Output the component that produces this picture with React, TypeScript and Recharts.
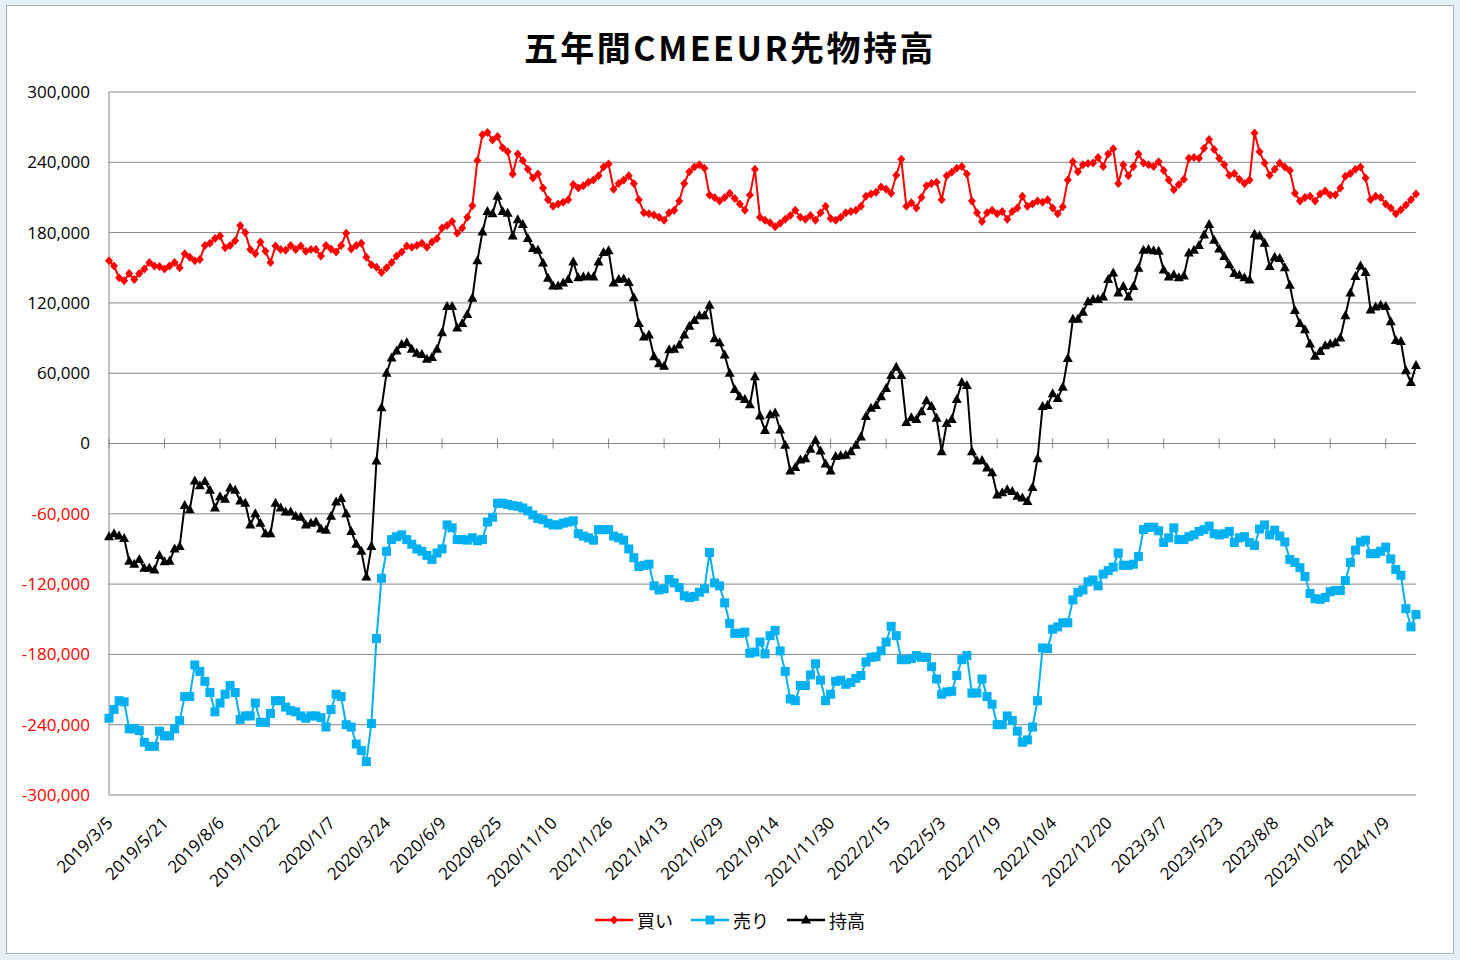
import React from "react";
import { LineChart, Line, XAxis, YAxis, CartesianGrid, ReferenceLine, Legend } from "recharts";

// weekly CME EUR futures positions, first report 2019/3/5
const weekCount = 260;
const dates: string[] = [];
for (let i = 0; i < weekCount; i++) {
  const d = new Date(Date.UTC(2019, 2, 5 + i * 7));
  dates.push(`${d.getUTCFullYear()}/${d.getUTCMonth() + 1}/${d.getUTCDate()}`);
}

const tickLabels = [
  "2019/3/5", "2019/5/21", "2019/8/6", "2019/10/22", "2020/1/7", "2020/3/24",
  "2020/6/9", "2020/8/25", "2020/11/10", "2021/1/26", "2021/4/13", "2021/6/29",
  "2021/9/14", "2021/11/30", "2022/2/15", "2022/5/3", "2022/7/19", "2022/10/4",
  "2022/12/20", "2023/3/7", "2023/5/23", "2023/8/8", "2023/10/24", "2024/1/9",
];

const yTicks = [300000, 240000, 180000, 120000, 60000, 0, -60000, -120000, -180000, -240000, -300000];

// 買い (long)
const buy = [
  156000, 151500, 141500, 139000, 145000, 140000, 145000, 149000, 154500, 151500,
  151000, 149000, 151500, 154500, 150000, 162000, 159000, 156000, 157000, 169000,
  171000, 175000, 177000, 167000, 169000, 173000, 186000, 180000, 165500, 162000,
  172000, 164000, 154500, 168500, 165500, 165000, 169000, 165500, 168500, 164000,
  165500, 165500, 160000, 169000, 166000, 163500, 169000, 179500, 166000, 169000,
  171000, 159000, 152500, 150500, 146000, 150000, 154500, 160000, 163500, 168500,
  167500, 169000, 171000, 167500, 172000, 175000, 184000, 186000, 189500, 179500,
  184000, 193000, 203000, 241500, 263500, 265500, 259000, 262000, 252500, 249000,
  230000, 247000, 241500, 234000, 226500, 230000, 218000, 208000, 202500, 204500,
  206000, 208000, 221000, 218000, 220000, 223000, 225000, 228500, 236000, 238500,
  217000, 222000, 225000, 228500, 222000, 208000, 197000, 196000, 195000, 193000,
  190500, 197000, 199000, 207000, 222000, 232000, 236000, 238000, 235000, 212000,
  210000, 207000, 210000, 213500, 209000, 204500, 199000, 212000, 234000, 193000,
  190500, 188500, 185000, 188000, 191500, 194500, 199000, 193000, 191500, 194500,
  190500, 197000, 202500, 192000, 190500, 193000, 197000, 198000, 199000, 202500,
  211000, 213000, 214500, 219000, 217000, 213500, 229000, 242500, 202500, 205500,
  201000, 210000, 220000, 222000, 223000, 208000, 228500, 231500, 235000, 236500,
  230000, 207000, 197000, 189500, 197000, 199000, 196000, 198000, 191500, 198000,
  201000, 211000, 202500, 204500, 207000, 206000, 208000, 201000, 196000, 202000,
  225000, 240500, 232000, 238000, 239000, 239500, 244000, 236500, 247000, 251500,
  222000, 238000, 228500, 236500, 247000, 239500, 238000, 236500, 240500, 233000,
  225000, 216500, 221000, 225500, 243500, 244000, 243500, 252000, 259500, 251000,
  243500, 238000, 229000, 230500, 225500, 222000, 225000, 265000, 249000, 239500,
  229000, 234000, 239500, 236000, 233000, 213500, 207000, 210000, 211000, 207000,
  213000, 215500, 212000, 212000, 218000, 228000, 230500, 234000, 236000, 226500,
  208000, 211000, 210000, 204500, 201000, 196000, 199500, 203500, 208000, 213000,
];

// 売り (short)
const sell = [
  -234500, -227000, -219500, -220500, -243500, -243500, -245000, -255000, -258500, -258500,
  -245500, -249500, -249500, -243500, -236500, -216000, -216000, -189000, -194500, -203000,
  -212500, -229000, -221500, -214000, -206500, -212500, -235500, -232500, -232500, -221500,
  -238000, -238000, -230500, -219500, -219500, -225000, -228000, -229000, -232500, -234500,
  -232500, -232500, -234000, -242000, -227000, -214000, -216000, -240000, -242000, -256500,
  -262000, -271500, -239000, -166500, -115000, -92000, -82000, -79500, -78000, -82000,
  -86000, -90000, -92000, -95500, -99000, -93500, -90000, -69500, -72000, -82000,
  -82000, -82500, -80500, -83000, -82000, -67000, -63000, -51000, -51000, -52000,
  -53000, -53500, -55000, -57500, -61000, -64000, -65000, -68000, -69500, -69500,
  -68000, -67000, -66000, -77000, -79000, -80500, -82500, -73500, -73500, -73500,
  -79000, -80500, -82500, -90000, -97500, -105000, -104000, -103000, -121500, -125000,
  -124000, -116000, -119000, -123000, -130000, -131500, -130500, -127000, -124000, -93000,
  -119000, -121500, -136000, -153500, -162000, -162000, -161000, -179000, -178000, -169500,
  -179500, -164000, -159500, -177000, -194500, -218000, -219500, -206500, -206500, -197500,
  -188000, -202000, -219500, -214000, -203000, -202000, -205500, -204000, -200500, -198000,
  -186500, -182500, -182000, -177000, -169500, -156000, -164000, -184500, -184500, -183500,
  -181000, -182500, -182500, -190500, -201000, -214000, -212000, -211500, -198000, -184500,
  -181000, -213000, -213000, -201000, -216000, -222500, -240000, -240000, -232500, -236500,
  -245500, -255000, -253000, -242000, -219500, -174500, -175000, -158500, -156500, -153000,
  -153000, -133500, -127000, -125000, -118000, -116500, -121500, -111500, -108500, -105500,
  -93500, -104000, -104000, -103000, -96500, -73500, -71500, -71500, -74500, -84500,
  -80500, -72000, -82000, -82000, -79500, -78000, -75000, -73500, -70500, -77000,
  -78000, -77000, -75000, -84500, -80500, -79500, -84500, -87000, -73000, -69500,
  -78000, -74000, -79000, -84000, -99000, -101500, -106000, -113500, -128000, -132500,
  -133000, -131500, -126500, -125500, -125500, -117000, -101500, -91000, -84000, -82500,
  -94000, -94000, -92000, -88500, -98500, -107500, -112500, -141000, -156500, -146000,
];

// 持高 (net)
const net = [
  -79500, -77000, -79000, -81000, -100500, -103000, -99000, -106500, -106500, -108000,
  -95500, -101000, -100500, -90000, -88000, -53000, -56500, -32000, -36000, -32500,
  -40000, -55000, -45500, -47500, -38000, -40000, -49000, -51000, -69500, -60000,
  -68000, -77000, -77000, -51000, -55000, -58500, -58500, -62000, -63000, -69500,
  -68000, -67000, -73000, -74000, -62000, -50000, -47000, -60000, -75000, -86000,
  -92000, -114000, -88000, -15000, 30500, 60000, 73000, 79000, 84500, 86000,
  80500, 77000, 76000, 72000, 73500, 80500, 94500, 117000, 117000, 98500,
  102500, 110000, 124000, 156000, 180500, 198000, 196000, 211000, 198000, 196500,
  177000, 191000, 187000, 175000, 166500, 165000, 154000, 141000, 134500, 134500,
  137000, 140000, 155000, 141500, 142000, 142500, 142000, 155000, 163000, 164500,
  137000, 140000, 140500, 137500, 124500, 102500, 91000, 92500, 74000, 68000,
  66000, 80000, 80500, 84000, 92500, 100000, 105000, 109000, 109000, 118000,
  89500, 86000, 75500, 60000, 46000, 40000, 37500, 33000, 57000, 23500,
  11000, 24500, 26000, 11500, -1500, -23500, -20500, -14000, -13000, -5000,
  2500, -6500, -17500, -23500, -11000, -10500, -10000, -7000, -1500, 5500,
  23000, 30000, 32500, 40000, 47000, 58000, 65000, 58000, 18000, 22000,
  20500, 27000, 36500, 31500, 21500, -7000, 17000, 20500, 37500, 52000,
  49500, -7000, -15000, -14500, -21000, -25000, -44000, -42000, -39500, -41000,
  -45000, -46500, -49500, -37500, -13000, 31500, 32500, 42500, 38500, 48000,
  72500, 106000, 106000, 112000, 121000, 123000, 123000, 125000, 140000, 145500,
  128500, 134000, 125000, 134000, 149500, 165000, 165500, 164500, 164000, 148000,
  142000, 144000, 141500, 143000, 162500, 165000, 169000, 178000, 187000, 173500,
  166000, 159500, 152500, 145000, 143500, 141500, 139500, 178500, 177000, 171000,
  151000, 159000, 158000, 150000, 135000, 113500, 102500, 97000, 85000, 74500,
  78500, 83500, 85000, 86000, 90000, 109000, 128500, 142500, 151500, 146000,
  114000, 116500, 118000, 117000, 104000, 88000, 87000, 62000, 52000, 66500,
];

const data = dates.map((date, i) => ({ date, buy: buy[i], sell: sell[i], net: net[i] }));

const RED = "#ff0000";
const BLUE = "#00b0f0";
const BLACK = "#000000";
const GRID = "#868686";
const AXIS_FONT = "'Open Sans', 'Liberation Sans', sans-serif";
const JP_FONT = "'Noto Sans CJK JP', sans-serif";

const marker = (shape: string, cx: number, cy: number, color: string, key?: string) => {
  if (shape === "diamond")
    return <path key={key} d={`M${cx},${cy - 4.5}L${cx + 4},${cy}L${cx},${cy + 4.5}L${cx - 4},${cy}Z`} fill={color} />;
  if (shape === "square")
    return <rect key={key} x={cx - 4.5} y={cy - 4.5} width={9} height={9} fill={color} />;
  return <path key={key} d={`M${cx},${cy - 5.5}L${cx + 5},${cy + 3.5}L${cx - 5},${cy + 3.5}Z`} fill={color} />;
};

const dotFor = (shape: string, color: string) => (p: any) => {
  if (p.cx == null || p.cy == null) return <g key={`e-${p.index}`} />;
  return marker(shape, p.cx, p.cy, color, `${shape}-${p.index}`);
};

const YTick = ({ x, y, payload }: any) => (
  <text x={x - 19} y={y} dy="0.35em" textAnchor="end" fontSize={17} fontFamily={AXIS_FONT}
    fill={payload.value < 0 ? RED : "#000"}>
    {payload.value.toLocaleString("en-US")}
  </text>
);

const XTick = ({ x, y, payload }: any) => {
  const px = x + 5;
  const py = y + 29;
  return (
    <text x={px} y={py} transform={`rotate(-45, ${px}, ${py})`} textAnchor="end" fontSize={17}
      fontFamily={AXIS_FONT} fill="#000">
      {payload.value}
    </text>
  );
};

const legendOrder = ["buy", "sell", "net"];
const shapes: Record<string, string> = { buy: "diamond", sell: "square", net: "triangle" };

const renderLegend = (props: any) => {
  const items = [...(props.payload || [])].sort(
    (a: any, b: any) => legendOrder.indexOf(a.dataKey) - legendOrder.indexOf(b.dataKey)
  );
  return (
    <div style={{ display: "flex", justifyContent: "center", alignItems: "center", gap: 18, height: 30 }}>
      {items.map((item: any) => (
        <div key={item.dataKey} style={{ display: "flex", alignItems: "center" }}>
          <svg width={38} height={14}>
            <line x1={0} y1={7} x2={38} y2={7} stroke={item.color} strokeWidth={2.5} />
            {marker(shapes[item.dataKey], 19, 7, item.color)}
          </svg>
          <span style={{ fontFamily: JP_FONT, fontSize: 18, marginLeft: 4, color: "#000" }}>{item.value}</span>
        </div>
      ))}
    </div>
  );
};

export default function App() {
  return (
    <div style={{ position: "absolute", left: 0, top: 0, width: 1460, height: 960, background: "#e4f0f5" }}>
      <div style={{ position: "absolute", left: 6, top: 5, width: 1446, height: 947, background: "#fff", border: "1px solid #a9b4ba" }} />
      <div style={{ position: "absolute", top: 24, left: 0, width: 1460, textAlign: "center", fontFamily: JP_FONT,
        fontWeight: 700, fontSize: 34, letterSpacing: 2.5, lineHeight: "46px", color: "#000" }}>
        五年間CMEEUR先物持高
      </div>
      <div style={{ position: "absolute", left: 0, top: 0 }}>
        <LineChart width={1460} height={960} data={data} margin={{ top: 92, right: 44, bottom: 25, left: 9 }}>
          <CartesianGrid horizontal vertical={false} stroke={GRID} strokeWidth={1} />
          <XAxis dataKey="date" ticks={tickLabels} interval={0} height={110} axisLine={false} tickLine={false}
            tickSize={0} tickMargin={0} tick={<XTick />} />
          <YAxis domain={[-300000, 300000]} ticks={yTicks} width={100} axisLine={{ stroke: GRID }} tickLine={false}
            tickSize={0} tickMargin={0} tick={<YTick />} />
          <ReferenceLine y={0} stroke={GRID} strokeWidth={1} />
          {tickLabels.map((d) => (
            <ReferenceLine key={d} segment={[{ x: d, y: -4300 }, { x: d, y: 4300 }]} stroke={GRID} strokeWidth={1} />
          ))}
          <Line type="linear" dataKey="buy" name="買い" stroke={RED} strokeWidth={2} dot={dotFor("diamond", RED)}
            activeDot={false} isAnimationActive={false} />
          <Line type="linear" dataKey="sell" name="売り" stroke={BLUE} strokeWidth={2} dot={dotFor("square", BLUE)}
            activeDot={false} isAnimationActive={false} />
          <Line type="linear" dataKey="net" name="持高" stroke={BLACK} strokeWidth={2} dot={dotFor("triangle", BLACK)}
            activeDot={false} isAnimationActive={false} />
          <Legend verticalAlign="bottom" height={30} content={renderLegend}
            wrapperStyle={{ left: 0, width: 1460, height: 30 }} />
        </LineChart>
      </div>
    </div>
  );
}
